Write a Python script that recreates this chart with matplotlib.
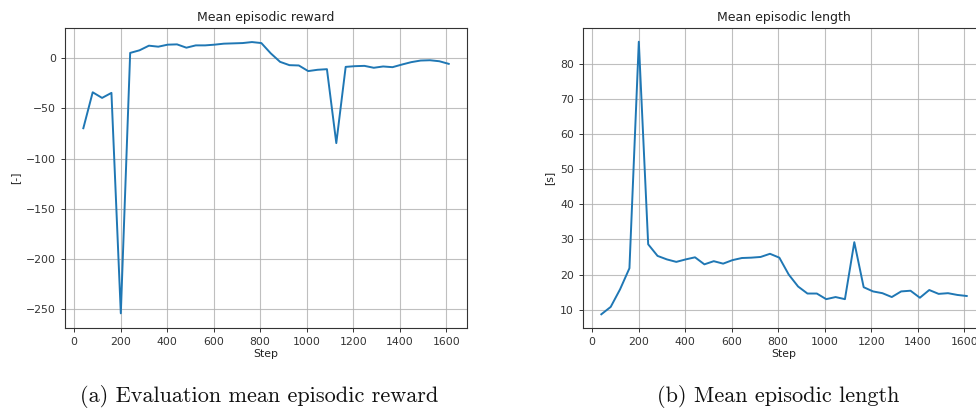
import numpy as np
import matplotlib
matplotlib.use("Agg")
import matplotlib.pyplot as plt

steps = [40.25 * k for k in range(1, 41)]
reward = [-69.7, -33.9, -39.5, -34.5, -254.0, 5.3, 7.9, 12.5, 11.5, 13.5,
          13.8, 10.5, 12.8, 12.8, 13.5, 14.5, 14.8, 15.1, 16.1, 15.1,
          4.9, -3.6, -6.9, -7.2, -12.8, -11.5, -10.9, -84.5, -8.6, -7.9,
          -7.6, -9.5, -8.2, -8.9, -6.3, -3.9, -2.3, -2.0, -3.0, -5.6]
length = [8.7, 10.8, 15.8, 21.8, 86.2, 28.6, 25.3, 24.3, 23.6, 24.3,
          24.9, 22.9, 23.8, 23.1, 24.1, 24.7, 24.8, 25.0, 25.9, 24.8,
          20.0, 16.6, 14.6, 14.6, 13.0, 13.6, 13.0, 29.2, 16.4, 15.2,
          14.7, 13.6, 15.2, 15.4, 13.4, 15.6, 14.5, 14.7, 14.2, 13.9]
x_ticks = [0, 200, 400, 600, 800, 1000, 1200, 1400, 1600]

W, H = 976, 412
fig = plt.figure(figsize=(W / 100, H / 100), dpi=100)

def rect(l, r, t, b):
    return [l / W, 1 - b / H, (r - l) / W, (b - t) / H]

ax1 = fig.add_axes(rect(65, 467, 28, 328))
ax2 = fig.add_axes(rect(583, 985, 28, 328))

color = "#1f77b4"
for ax, y, title, ylabel, yt in [
        (ax1, reward, "Mean episodic reward", "[-]", [0, -50, -100, -150, -200, -250]),
        (ax2, length, "Mean episodic length", "[s]", [10, 20, 30, 40, 50, 60, 70, 80])]:
    ax.plot(steps, y, color=color, lw=1.4)
    ax.grid(True, color="#b0b0b0", lw=0.8, alpha=0.8)
    ax.set_xticks(x_ticks)
    ax.set_yticks(yt)
    ax.tick_params(labelsize=7.8, colors="#333333", labelcolor="#333333", length=3, width=0.7)
    ax.set_title(title, fontsize=9, color="#222222", pad=5)
    ax.set_xlabel("Step", fontsize=7.8, color="#222222", labelpad=1.5)
    ax.set_ylabel(ylabel, fontsize=7.8, color="#222222")
    for s in ax.spines.values():
        s.set_linewidth(0.8)
        s.set_color("#333333")

ax1.set_xlim(-38.5, 1688.5)
ax1.set_ylim(-268.6, 30.1)
ax2.set_xlim(-38.5, 1688.5)
ax2.set_ylim(4.8, 90.1)

fig.text(259 / W, 1 - 397 / H, "(a) Evaluation mean episodic reward", family="cmr10",
         fontsize=16, ha="center", va="center", color="#111111")
fig.text(778 / W, 1 - 397 / H, "(b) Mean episodic length", family="cmr10",
         fontsize=16, ha="center", va="center", color="#111111")

fig.savefig("out.png", dpi=100)
